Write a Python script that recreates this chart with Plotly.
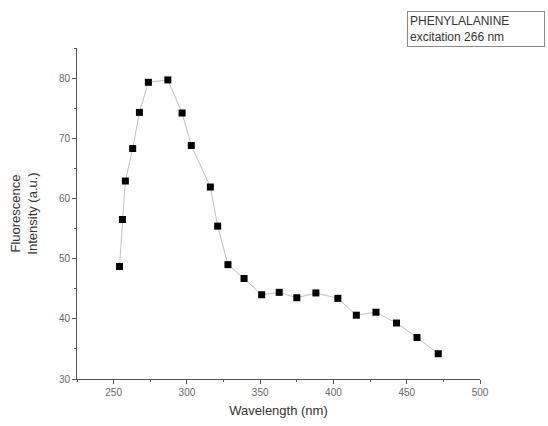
import plotly.graph_objects as go

wavelength = [254, 256, 258, 263, 267.6, 273.7, 287, 296.7, 303, 316, 321, 328, 339, 351,
              363, 375, 388, 403, 415.6, 429, 443, 457, 471.5]
intensity = [48.7, 56.5, 62.9, 68.3, 74.3, 79.3, 79.7, 74.2, 68.8, 61.9, 55.4, 49.0, 46.7, 44.0,
             44.4, 43.5, 44.3, 43.4, 40.6, 41.1, 39.3, 36.9, 34.2]
x_ticks = [250, 300, 350, 400, 450, 500]
y_ticks = [30, 40, 50, 60, 70, 80]

fig = go.Figure()
fig.add_trace(go.Scatter(
    x=wavelength, y=intensity, mode="lines+markers",
    line=dict(color="#c0c0c0", width=1),
    marker=dict(symbol="square", size=7, color="black"),
    showlegend=False,
))

axis_common = dict(
    showline=True, linecolor="#555555", linewidth=1,
    ticks="outside", ticklen=4, tickcolor="#555555",
    showgrid=False, zeroline=False, mirror=False,
    tickfont=dict(family="Liberation Sans, Arial", size=10, color="#666666"),
)
fig.update_xaxes(range=[225, 500], tickvals=x_ticks,
                 minor=dict(ticks="outside", ticklen=2, tickcolor="#555555", dtick=25, tick0=225),
                 title=dict(text="Wavelength (nm)", font=dict(family="Liberation Sans, Arial", size=13, color="#333333"), standoff=8),
                 **axis_common)
fig.update_yaxes(range=[30, 85], tickvals=y_ticks,
                 minor=dict(ticks="outside", ticklen=2, tickcolor="#555555", dtick=5, tick0=30),
                 title=dict(text="Fluorescence<br>Intensity (a.u.)", font=dict(family="Liberation Sans, Arial", size=13, color="#333333"), standoff=18),
                 **axis_common)

fig.add_annotation(
    xref="paper", yref="paper", x=0.819, y=1.112, xanchor="left", yanchor="top",
    text="PHENYLALANINE<br>excitation 266 nm", align="left", showarrow=False,
    font=dict(family="Liberation Sans, Arial", size=12, color="#333333"),
    bordercolor="#888888", borderwidth=1, borderpad=2, bgcolor="white",
    width=132,
)

fig.update_layout(
    width=548, height=426,
    margin=dict(l=77, r=68, t=48, b=47),
    plot_bgcolor="white", paper_bgcolor="white",
)
fig.write_html("out.html")
